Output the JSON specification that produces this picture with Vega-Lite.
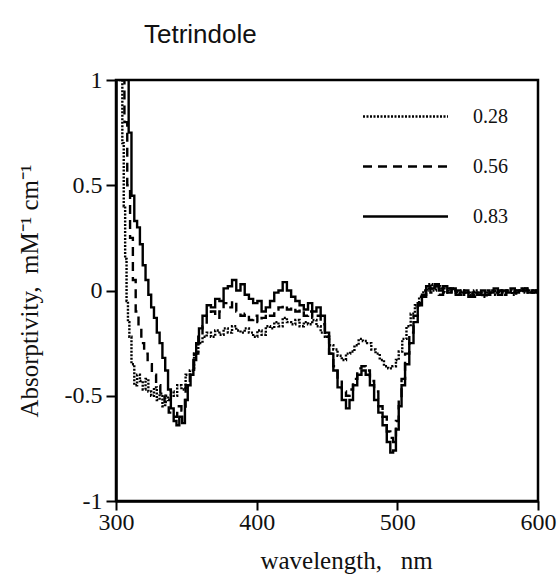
{
  "$schema": "https://vega.github.io/schema/vega-lite/v6.json",
  "autosize": "none",
  "width": 422,
  "height": 421,
  "padding": {"left": 116, "top": 80, "right": 20, "bottom": 74},
  "background": "white",
  "title": {"text": "Tetrindole", "anchor": "start", "frame": "group", "dx": 28, "offset": 20, "font": "Liberation Sans", "fontSize": 26, "fontWeight": "normal", "color": "#111"},
  "config": {"view": {"stroke": "black", "strokeWidth": 2.5}},
  "datasets": {
    "spectra": [
      {"wl": 303, "a": 1.6, "c": "0.83"}, {"wl": 306, "a": 1.3, "c": "0.83"}, {"wl": 308, "a": 1.05, "c": "0.83"}, {"wl": 310, "a": 0.75, "c": "0.83"}, {"wl": 312, "a": 0.45, "c": "0.83"}, {"wl": 314, "a": 0.33, "c": "0.83"}, {"wl": 316, "a": 0.3, "c": "0.83"}, {"wl": 318, "a": 0.22, "c": "0.83"}, {"wl": 320, "a": 0.12, "c": "0.83"}, {"wl": 322, "a": 0.05, "c": "0.83"}, {"wl": 324, "a": -0.02, "c": "0.83"}, {"wl": 326, "a": -0.08, "c": "0.83"}, {"wl": 328, "a": -0.13, "c": "0.83"}, {"wl": 330, "a": -0.2, "c": "0.83"}, {"wl": 332, "a": -0.25, "c": "0.83"}, {"wl": 334, "a": -0.32, "c": "0.83"}, {"wl": 336, "a": -0.38, "c": "0.83"}, {"wl": 338, "a": -0.47, "c": "0.83"}, {"wl": 340, "a": -0.56, "c": "0.83"}, {"wl": 342, "a": -0.62, "c": "0.83"}, {"wl": 344, "a": -0.64, "c": "0.83"}, {"wl": 346, "a": -0.6, "c": "0.83"}, {"wl": 348, "a": -0.63, "c": "0.83"}, {"wl": 350, "a": -0.52, "c": "0.83"}, {"wl": 352, "a": -0.45, "c": "0.83"}, {"wl": 354, "a": -0.4, "c": "0.83"}, {"wl": 356, "a": -0.33, "c": "0.83"}, {"wl": 358, "a": -0.25, "c": "0.83"}, {"wl": 360, "a": -0.18, "c": "0.83"}, {"wl": 363, "a": -0.12, "c": "0.83"}, {"wl": 366, "a": -0.07, "c": "0.83"}, {"wl": 369, "a": -0.08, "c": "0.83"}, {"wl": 372, "a": -0.04, "c": "0.83"}, {"wl": 375, "a": -0.05, "c": "0.83"}, {"wl": 378, "a": 0.01, "c": "0.83"}, {"wl": 381, "a": 0.02, "c": "0.83"}, {"wl": 384, "a": 0.05, "c": "0.83"}, {"wl": 387, "a": 0.0, "c": "0.83"}, {"wl": 390, "a": 0.03, "c": "0.83"}, {"wl": 393, "a": -0.02, "c": "0.83"}, {"wl": 396, "a": -0.04, "c": "0.83"}, {"wl": 399, "a": -0.06, "c": "0.83"}, {"wl": 402, "a": -0.05, "c": "0.83"}, {"wl": 405, "a": -0.1, "c": "0.83"}, {"wl": 408, "a": -0.08, "c": "0.83"}, {"wl": 411, "a": -0.05, "c": "0.83"}, {"wl": 414, "a": -0.01, "c": "0.83"}, {"wl": 417, "a": 0.0, "c": "0.83"}, {"wl": 420, "a": 0.04, "c": "0.83"}, {"wl": 423, "a": 0.0, "c": "0.83"}, {"wl": 426, "a": -0.03, "c": "0.83"}, {"wl": 429, "a": -0.05, "c": "0.83"}, {"wl": 432, "a": -0.07, "c": "0.83"}, {"wl": 435, "a": -0.09, "c": "0.83"}, {"wl": 438, "a": -0.06, "c": "0.83"}, {"wl": 441, "a": -0.1, "c": "0.83"}, {"wl": 444, "a": -0.08, "c": "0.83"}, {"wl": 447, "a": -0.12, "c": "0.83"}, {"wl": 450, "a": -0.2, "c": "0.83"}, {"wl": 453, "a": -0.3, "c": "0.83"}, {"wl": 456, "a": -0.38, "c": "0.83"}, {"wl": 459, "a": -0.46, "c": "0.83"}, {"wl": 462, "a": -0.52, "c": "0.83"}, {"wl": 465, "a": -0.56, "c": "0.83"}, {"wl": 467, "a": -0.52, "c": "0.83"}, {"wl": 470, "a": -0.45, "c": "0.83"}, {"wl": 473, "a": -0.4, "c": "0.83"}, {"wl": 476, "a": -0.38, "c": "0.83"}, {"wl": 479, "a": -0.4, "c": "0.83"}, {"wl": 482, "a": -0.45, "c": "0.83"}, {"wl": 485, "a": -0.52, "c": "0.83"}, {"wl": 488, "a": -0.58, "c": "0.83"}, {"wl": 491, "a": -0.64, "c": "0.83"}, {"wl": 494, "a": -0.72, "c": "0.83"}, {"wl": 496, "a": -0.77, "c": "0.83"}, {"wl": 498, "a": -0.76, "c": "0.83"}, {"wl": 500, "a": -0.66, "c": "0.83"}, {"wl": 502, "a": -0.55, "c": "0.83"}, {"wl": 504, "a": -0.45, "c": "0.83"}, {"wl": 507, "a": -0.35, "c": "0.83"}, {"wl": 510, "a": -0.25, "c": "0.83"}, {"wl": 513, "a": -0.15, "c": "0.83"}, {"wl": 516, "a": -0.07, "c": "0.83"}, {"wl": 519, "a": -0.02, "c": "0.83"}, {"wl": 522, "a": 0.02, "c": "0.83"}, {"wl": 525, "a": 0.01, "c": "0.83"}, {"wl": 528, "a": 0.03, "c": "0.83"}, {"wl": 531, "a": 0.0, "c": "0.83"}, {"wl": 534, "a": 0.02, "c": "0.83"}, {"wl": 537, "a": -0.01, "c": "0.83"}, {"wl": 540, "a": 0.01, "c": "0.83"}, {"wl": 543, "a": -0.02, "c": "0.83"}, {"wl": 546, "a": -0.01, "c": "0.83"}, {"wl": 549, "a": 0.0, "c": "0.83"}, {"wl": 552, "a": -0.03, "c": "0.83"}, {"wl": 555, "a": -0.01, "c": "0.83"}, {"wl": 558, "a": -0.02, "c": "0.83"}, {"wl": 561, "a": 0.0, "c": "0.83"}, {"wl": 564, "a": -0.02, "c": "0.83"}, {"wl": 567, "a": -0.01, "c": "0.83"}, {"wl": 570, "a": 0.01, "c": "0.83"}, {"wl": 573, "a": -0.02, "c": "0.83"}, {"wl": 576, "a": 0.0, "c": "0.83"}, {"wl": 579, "a": -0.01, "c": "0.83"}, {"wl": 582, "a": 0.01, "c": "0.83"}, {"wl": 585, "a": -0.01, "c": "0.83"}, {"wl": 588, "a": 0.0, "c": "0.83"}, {"wl": 591, "a": 0.01, "c": "0.83"}, {"wl": 594, "a": -0.01, "c": "0.83"}, {"wl": 597, "a": 0.0, "c": "0.83"}, {"wl": 600, "a": 0.0, "c": "0.83"},

      {"wl": 303, "a": 1.5, "c": "0.56"}, {"wl": 305, "a": 1.1, "c": "0.56"}, {"wl": 307, "a": 0.8, "c": "0.56"}, {"wl": 309, "a": 0.5, "c": "0.56"}, {"wl": 311, "a": 0.25, "c": "0.56"}, {"wl": 313, "a": 0.05, "c": "0.56"}, {"wl": 315, "a": -0.1, "c": "0.56"}, {"wl": 317, "a": -0.18, "c": "0.56"}, {"wl": 319, "a": -0.25, "c": "0.56"}, {"wl": 321, "a": -0.3, "c": "0.56"}, {"wl": 324, "a": -0.35, "c": "0.56"}, {"wl": 327, "a": -0.4, "c": "0.56"}, {"wl": 330, "a": -0.45, "c": "0.56"}, {"wl": 333, "a": -0.5, "c": "0.56"}, {"wl": 336, "a": -0.53, "c": "0.56"}, {"wl": 339, "a": -0.58, "c": "0.56"}, {"wl": 342, "a": -0.6, "c": "0.56"}, {"wl": 345, "a": -0.55, "c": "0.56"}, {"wl": 348, "a": -0.57, "c": "0.56"}, {"wl": 351, "a": -0.45, "c": "0.56"}, {"wl": 354, "a": -0.4, "c": "0.56"}, {"wl": 357, "a": -0.3, "c": "0.56"}, {"wl": 360, "a": -0.22, "c": "0.56"}, {"wl": 363, "a": -0.17, "c": "0.56"}, {"wl": 366, "a": -0.12, "c": "0.56"}, {"wl": 369, "a": -0.1, "c": "0.56"}, {"wl": 372, "a": -0.13, "c": "0.56"}, {"wl": 375, "a": -0.1, "c": "0.56"}, {"wl": 378, "a": -0.06, "c": "0.56"}, {"wl": 381, "a": -0.08, "c": "0.56"}, {"wl": 384, "a": -0.05, "c": "0.56"}, {"wl": 387, "a": -0.1, "c": "0.56"}, {"wl": 390, "a": -0.12, "c": "0.56"}, {"wl": 393, "a": -0.11, "c": "0.56"}, {"wl": 396, "a": -0.14, "c": "0.56"}, {"wl": 399, "a": -0.12, "c": "0.56"}, {"wl": 402, "a": -0.15, "c": "0.56"}, {"wl": 405, "a": -0.13, "c": "0.56"}, {"wl": 408, "a": -0.11, "c": "0.56"}, {"wl": 411, "a": -0.12, "c": "0.56"}, {"wl": 414, "a": -0.09, "c": "0.56"}, {"wl": 417, "a": -0.08, "c": "0.56"}, {"wl": 420, "a": -0.07, "c": "0.56"}, {"wl": 423, "a": -0.09, "c": "0.56"}, {"wl": 426, "a": -0.08, "c": "0.56"}, {"wl": 429, "a": -0.1, "c": "0.56"}, {"wl": 432, "a": -0.09, "c": "0.56"}, {"wl": 435, "a": -0.12, "c": "0.56"}, {"wl": 438, "a": -0.1, "c": "0.56"}, {"wl": 441, "a": -0.13, "c": "0.56"}, {"wl": 444, "a": -0.12, "c": "0.56"}, {"wl": 447, "a": -0.16, "c": "0.56"}, {"wl": 450, "a": -0.22, "c": "0.56"}, {"wl": 453, "a": -0.3, "c": "0.56"}, {"wl": 456, "a": -0.36, "c": "0.56"}, {"wl": 459, "a": -0.42, "c": "0.56"}, {"wl": 462, "a": -0.48, "c": "0.56"}, {"wl": 465, "a": -0.5, "c": "0.56"}, {"wl": 467, "a": -0.47, "c": "0.56"}, {"wl": 470, "a": -0.42, "c": "0.56"}, {"wl": 473, "a": -0.37, "c": "0.56"}, {"wl": 476, "a": -0.36, "c": "0.56"}, {"wl": 479, "a": -0.38, "c": "0.56"}, {"wl": 482, "a": -0.43, "c": "0.56"}, {"wl": 485, "a": -0.48, "c": "0.56"}, {"wl": 488, "a": -0.55, "c": "0.56"}, {"wl": 491, "a": -0.6, "c": "0.56"}, {"wl": 494, "a": -0.67, "c": "0.56"}, {"wl": 496, "a": -0.7, "c": "0.56"}, {"wl": 498, "a": -0.72, "c": "0.56"}, {"wl": 500, "a": -0.62, "c": "0.56"}, {"wl": 502, "a": -0.52, "c": "0.56"}, {"wl": 504, "a": -0.42, "c": "0.56"}, {"wl": 507, "a": -0.3, "c": "0.56"}, {"wl": 510, "a": -0.2, "c": "0.56"}, {"wl": 513, "a": -0.12, "c": "0.56"}, {"wl": 516, "a": -0.06, "c": "0.56"}, {"wl": 519, "a": -0.03, "c": "0.56"}, {"wl": 522, "a": 0.01, "c": "0.56"}, {"wl": 525, "a": -0.01, "c": "0.56"}, {"wl": 528, "a": 0.02, "c": "0.56"}, {"wl": 531, "a": -0.02, "c": "0.56"}, {"wl": 534, "a": 0.0, "c": "0.56"}, {"wl": 537, "a": 0.01, "c": "0.56"}, {"wl": 540, "a": -0.02, "c": "0.56"}, {"wl": 543, "a": 0.0, "c": "0.56"}, {"wl": 546, "a": -0.02, "c": "0.56"}, {"wl": 549, "a": -0.01, "c": "0.56"}, {"wl": 552, "a": 0.0, "c": "0.56"}, {"wl": 555, "a": -0.03, "c": "0.56"}, {"wl": 558, "a": -0.01, "c": "0.56"}, {"wl": 561, "a": -0.02, "c": "0.56"}, {"wl": 564, "a": 0.0, "c": "0.56"}, {"wl": 567, "a": -0.02, "c": "0.56"}, {"wl": 570, "a": -0.01, "c": "0.56"}, {"wl": 573, "a": 0.0, "c": "0.56"}, {"wl": 576, "a": -0.02, "c": "0.56"}, {"wl": 579, "a": 0.0, "c": "0.56"}, {"wl": 582, "a": -0.01, "c": "0.56"}, {"wl": 585, "a": 0.0, "c": "0.56"}, {"wl": 588, "a": -0.01, "c": "0.56"}, {"wl": 591, "a": 0.0, "c": "0.56"}, {"wl": 594, "a": 0.01, "c": "0.56"}, {"wl": 597, "a": -0.01, "c": "0.56"}, {"wl": 600, "a": 0.0, "c": "0.56"},

      {"wl": 302, "a": 1.4, "c": "0.28"}, {"wl": 304, "a": 1.0, "c": "0.28"}, {"wl": 305, "a": 0.7, "c": "0.28"}, {"wl": 306, "a": 0.4, "c": "0.28"}, {"wl": 307, "a": 0.15, "c": "0.28"}, {"wl": 308, "a": -0.05, "c": "0.28"}, {"wl": 309, "a": -0.15, "c": "0.28"}, {"wl": 310, "a": -0.22, "c": "0.28"}, {"wl": 312, "a": -0.35, "c": "0.28"}, {"wl": 314, "a": -0.45, "c": "0.28"}, {"wl": 316, "a": -0.4, "c": "0.28"}, {"wl": 318, "a": -0.43, "c": "0.28"}, {"wl": 320, "a": -0.47, "c": "0.28"}, {"wl": 322, "a": -0.42, "c": "0.28"}, {"wl": 324, "a": -0.48, "c": "0.28"}, {"wl": 326, "a": -0.5, "c": "0.28"}, {"wl": 328, "a": -0.46, "c": "0.28"}, {"wl": 330, "a": -0.52, "c": "0.28"}, {"wl": 332, "a": -0.49, "c": "0.28"}, {"wl": 334, "a": -0.55, "c": "0.28"}, {"wl": 336, "a": -0.5, "c": "0.28"}, {"wl": 338, "a": -0.52, "c": "0.28"}, {"wl": 340, "a": -0.48, "c": "0.28"}, {"wl": 342, "a": -0.5, "c": "0.28"}, {"wl": 345, "a": -0.45, "c": "0.28"}, {"wl": 348, "a": -0.47, "c": "0.28"}, {"wl": 351, "a": -0.4, "c": "0.28"}, {"wl": 354, "a": -0.38, "c": "0.28"}, {"wl": 357, "a": -0.3, "c": "0.28"}, {"wl": 360, "a": -0.25, "c": "0.28"}, {"wl": 363, "a": -0.22, "c": "0.28"}, {"wl": 366, "a": -0.2, "c": "0.28"}, {"wl": 369, "a": -0.22, "c": "0.28"}, {"wl": 372, "a": -0.19, "c": "0.28"}, {"wl": 375, "a": -0.21, "c": "0.28"}, {"wl": 378, "a": -0.18, "c": "0.28"}, {"wl": 381, "a": -0.2, "c": "0.28"}, {"wl": 384, "a": -0.17, "c": "0.28"}, {"wl": 387, "a": -0.19, "c": "0.28"}, {"wl": 390, "a": -0.2, "c": "0.28"}, {"wl": 393, "a": -0.18, "c": "0.28"}, {"wl": 396, "a": -0.2, "c": "0.28"}, {"wl": 399, "a": -0.22, "c": "0.28"}, {"wl": 402, "a": -0.19, "c": "0.28"}, {"wl": 405, "a": -0.21, "c": "0.28"}, {"wl": 408, "a": -0.17, "c": "0.28"}, {"wl": 411, "a": -0.18, "c": "0.28"}, {"wl": 414, "a": -0.15, "c": "0.28"}, {"wl": 417, "a": -0.17, "c": "0.28"}, {"wl": 420, "a": -0.13, "c": "0.28"}, {"wl": 423, "a": -0.15, "c": "0.28"}, {"wl": 426, "a": -0.16, "c": "0.28"}, {"wl": 429, "a": -0.14, "c": "0.28"}, {"wl": 432, "a": -0.17, "c": "0.28"}, {"wl": 435, "a": -0.15, "c": "0.28"}, {"wl": 438, "a": -0.16, "c": "0.28"}, {"wl": 441, "a": -0.14, "c": "0.28"}, {"wl": 444, "a": -0.17, "c": "0.28"}, {"wl": 447, "a": -0.2, "c": "0.28"}, {"wl": 450, "a": -0.22, "c": "0.28"}, {"wl": 453, "a": -0.26, "c": "0.28"}, {"wl": 456, "a": -0.28, "c": "0.28"}, {"wl": 459, "a": -0.31, "c": "0.28"}, {"wl": 462, "a": -0.33, "c": "0.28"}, {"wl": 465, "a": -0.3, "c": "0.28"}, {"wl": 468, "a": -0.29, "c": "0.28"}, {"wl": 471, "a": -0.26, "c": "0.28"}, {"wl": 474, "a": -0.23, "c": "0.28"}, {"wl": 477, "a": -0.24, "c": "0.28"}, {"wl": 480, "a": -0.25, "c": "0.28"}, {"wl": 483, "a": -0.28, "c": "0.28"}, {"wl": 486, "a": -0.3, "c": "0.28"}, {"wl": 489, "a": -0.33, "c": "0.28"}, {"wl": 492, "a": -0.36, "c": "0.28"}, {"wl": 495, "a": -0.37, "c": "0.28"}, {"wl": 498, "a": -0.36, "c": "0.28"}, {"wl": 500, "a": -0.33, "c": "0.28"}, {"wl": 502, "a": -0.29, "c": "0.28"}, {"wl": 505, "a": -0.23, "c": "0.28"}, {"wl": 508, "a": -0.17, "c": "0.28"}, {"wl": 511, "a": -0.11, "c": "0.28"}, {"wl": 514, "a": -0.07, "c": "0.28"}, {"wl": 517, "a": -0.03, "c": "0.28"}, {"wl": 520, "a": 0.0, "c": "0.28"}, {"wl": 523, "a": 0.03, "c": "0.28"}, {"wl": 526, "a": 0.0, "c": "0.28"}, {"wl": 529, "a": 0.02, "c": "0.28"}, {"wl": 532, "a": 0.01, "c": "0.28"}, {"wl": 535, "a": -0.01, "c": "0.28"}, {"wl": 538, "a": 0.01, "c": "0.28"}, {"wl": 541, "a": 0.0, "c": "0.28"}, {"wl": 544, "a": -0.02, "c": "0.28"}, {"wl": 547, "a": 0.0, "c": "0.28"}, {"wl": 550, "a": -0.01, "c": "0.28"}, {"wl": 553, "a": -0.02, "c": "0.28"}, {"wl": 556, "a": 0.0, "c": "0.28"}, {"wl": 559, "a": -0.01, "c": "0.28"}, {"wl": 562, "a": -0.03, "c": "0.28"}, {"wl": 565, "a": -0.01, "c": "0.28"}, {"wl": 568, "a": 0.0, "c": "0.28"}, {"wl": 571, "a": -0.02, "c": "0.28"}, {"wl": 574, "a": 0.0, "c": "0.28"}, {"wl": 577, "a": -0.01, "c": "0.28"}, {"wl": 580, "a": 0.0, "c": "0.28"}, {"wl": 583, "a": -0.02, "c": "0.28"}, {"wl": 586, "a": 0.0, "c": "0.28"}, {"wl": 589, "a": 0.01, "c": "0.28"}, {"wl": 592, "a": -0.01, "c": "0.28"}, {"wl": 595, "a": 0.0, "c": "0.28"}, {"wl": 598, "a": -0.01, "c": "0.28"}, {"wl": 600, "a": 0.0, "c": "0.28"}
    ]
  },
  "data": {"name": "spectra"},
  "mark": {"type": "line", "clip": true, "color": "black", "strokeWidth": 2.4, "interpolate": "step"},
  "encoding": {
    "x": {
      "field": "wl", "type": "quantitative",
      "scale": {"domain": [300, 600], "nice": false, "zero": false},
      "axis": {
        "values": [300, 400, 500, 600], "grid": false, "title": "wavelength,\u00a0\u00a0\u00a0nm",
        "labelExpr": "toString(datum.value)",
        "domainColor": "black", "domainWidth": 2.5, "tickColor": "black", "tickWidth": 2, "tickSize": 9,
        "labelFont": "Liberation Serif", "labelFontSize": 24, "labelColor": "#111", "labelPadding": 0, "labelFlush": false,
        "titleX": 230, "titleAlign": "center",
        "titleFont": "Liberation Serif", "titleFontSize": 25, "titleFontWeight": "normal", "titleColor": "#111", "titlePadding": 14
      }
    },
    "y": {
      "field": "a", "type": "quantitative",
      "scale": {"domain": [-1, 1], "nice": false, "zero": false},
      "axis": {
        "values": [-1, -0.5, 0, 0.5, 1], "grid": false, "title": "Absorptivity,\u00a0\u00a0mM⁻¹ cm⁻¹",
        "labelExpr": "toString(datum.value)",
        "domainColor": "black", "domainWidth": 2.5, "tickColor": "black", "tickWidth": 2, "tickSize": 10,
        "labelFont": "Liberation Serif", "labelFontSize": 24, "labelColor": "#111", "labelPadding": 4, "labelFlush": false,
        "titleFont": "Liberation Serif", "titleFontSize": 25, "titleFontWeight": "normal", "titleColor": "#111", "titlePadding": 22
      }
    },
    "detail": {"field": "c"},
    "strokeDash": {
      "field": "c", "type": "nominal",
      "scale": {"domain": ["0.28", "0.56", "0.83"], "range": [[2, 1.5], [9, 6], [1, 0]]},
      "legend": {
        "orient": "none", "legendX": 263, "legendY": 10, "title": null,
        "symbolType": "M-1.7,0H1.7", "symbolSize": 2500, "symbolStrokeWidth": 2.5, "symbolStrokeColor": "black",
        "labelFont": "Liberation Serif", "labelFontSize": 20, "labelColor": "#111", "labelOffset": 41, "rowPadding": 13
      }
    }
  }
}
